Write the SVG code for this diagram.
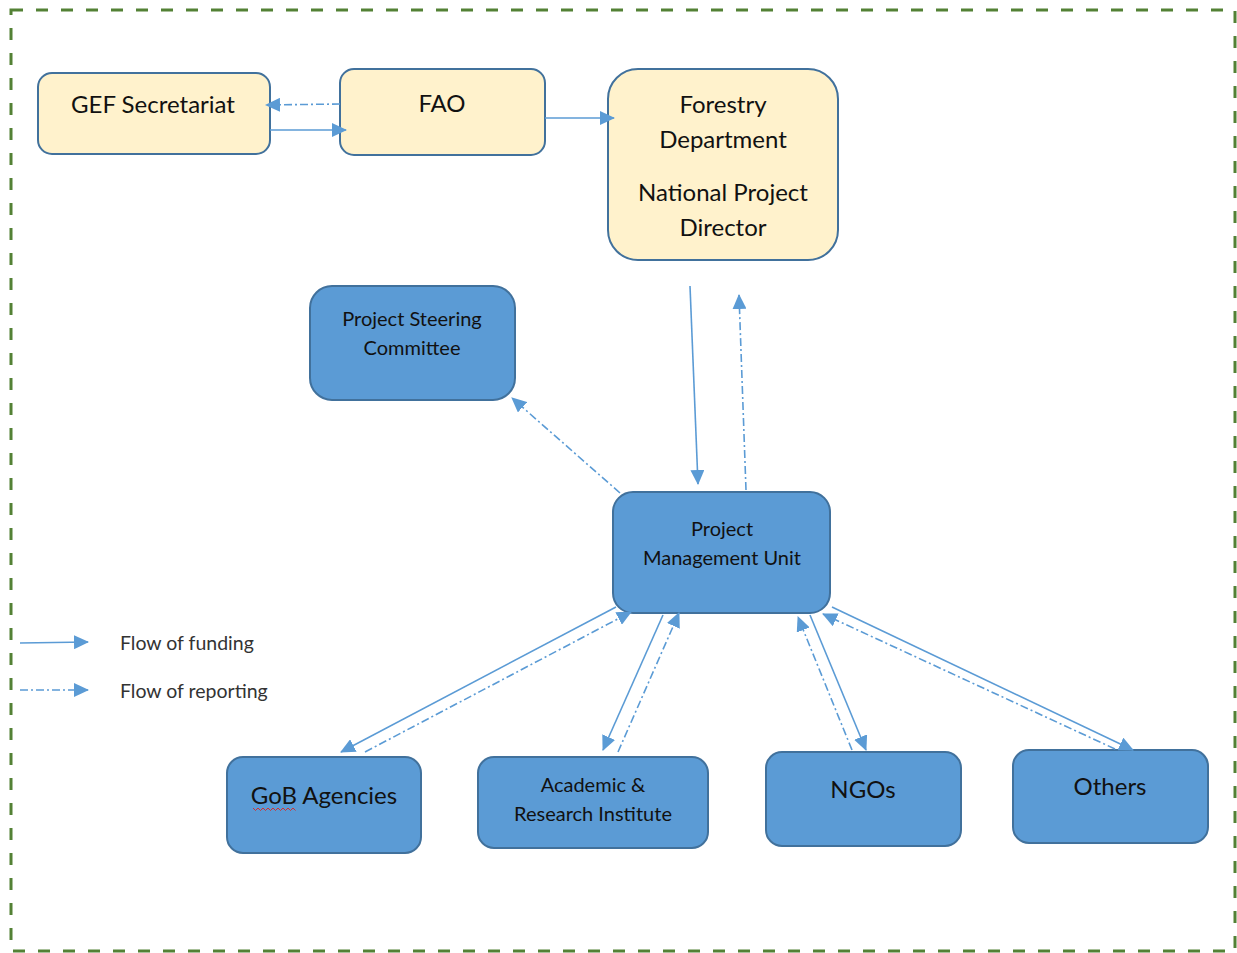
<svg xmlns="http://www.w3.org/2000/svg" width="1237" height="953" viewBox="0 0 1237 953">
<defs>
<marker id="ah" markerUnits="userSpaceOnUse" markerWidth="16" markerHeight="14" refX="14" refY="7" orient="auto">
<path d="M0,0 L15,7 L0,14 Z" fill="#5B9BD5"/>
</marker>
<style>
.frame{fill:none;stroke:#538135;stroke-width:3;stroke-dasharray:12 13}
.tan{fill:#FFF2CC;stroke:#41719C;stroke-width:2}
.blue{fill:#5B9BD5;stroke:#41719C;stroke-width:2}
.fund{fill:none;stroke:#5B9BD5;stroke-width:1.6;marker-end:url(#ah)}
.rep{fill:none;stroke:#5B9BD5;stroke-width:1.6;stroke-dasharray:8 3 2 3;marker-end:url(#ah)}
text{font-family:Lato,"Open Sans","Liberation Sans",sans-serif;fill:#111;text-anchor:middle}
.t24{font-size:24px}
.t20{font-size:20px}
.leg{font-size:19.5px;fill:#333;text-anchor:start}
</style>
</defs>
<rect class="frame" x="11" y="10" width="1224" height="941"/>

<g id="gef"><rect class="tan" x="38" y="73" width="232" height="81" rx="14"/><text class="t24" x="153" y="113">GEF Secretariat</text></g>
<g id="fao"><rect class="tan" x="340" y="69" width="205" height="86" rx="14"/><text class="t24" x="442" y="112">FAO</text></g>
<g id="fd"><rect class="tan" x="608" y="69" width="230" height="191" rx="30"/>
<text class="t24" x="723" y="113">Forestry</text><text class="t24" x="723" y="148">Department</text>
<text class="t24" x="723" y="201">National Project</text><text class="t24" x="723" y="236">Director</text></g>
<g id="psc"><rect class="blue" x="310" y="286" width="205" height="114" rx="22"/>
<text class="t20" x="412" y="326">Project Steering</text><text class="t20" x="412" y="355">Committee</text></g>
<g id="pmu"><rect class="blue" x="613" y="492" width="217" height="121" rx="20"/>
<text class="t20" x="722" y="536">Project</text><text class="t20" x="722" y="565">Management Unit</text></g>
<g id="gob"><rect class="blue" x="227" y="757" width="194" height="96" rx="16"/>
<text class="t24" x="324" y="804">GoB Agencies</text>
<path d="M253,808 l2.5,2.5 2.5,-2.5 2.5,2.5 2.5,-2.5 2.5,2.5 2.5,-2.5 2.5,2.5 2.5,-2.5 2.5,2.5 2.5,-2.5 2.5,2.5 2.5,-2.5 2.5,2.5 2.5,-2.5 2.5,2.5 2.5,-2.5 2.5,2.5" fill="none" stroke="#d03030" stroke-width="1"/></g>
<g id="acad"><rect class="blue" x="478" y="757" width="230" height="91" rx="16"/>
<text class="t20" x="593" y="792">Academic &amp;</text><text class="t20" x="593" y="821">Research Institute</text></g>
<g id="ngo"><rect class="blue" x="766" y="752" width="195" height="94" rx="16"/><text class="t24" x="863" y="798">NGOs</text></g>
<g id="others"><rect class="blue" x="1013" y="750" width="195" height="93" rx="16"/><text class="t24" x="1110" y="795">Others</text></g>

<g id="connectors">
<line class="fund" x1="270" y1="130" x2="346" y2="130"/>
<line class="rep" x1="340" y1="104" x2="266" y2="105"/>
<line class="fund" x1="545" y1="118" x2="614" y2="118"/>
<line class="fund" x1="690" y1="286" x2="698" y2="484"/>
<line class="rep" x1="746" y1="490" x2="739" y2="295"/>
<line class="rep" x1="620" y1="493" x2="512" y2="398"/>
<line class="fund" x1="616" y1="607" x2="341" y2="752"/>
<line class="rep" x1="365" y1="752" x2="631" y2="612"/>
<line class="fund" x1="663" y1="615" x2="603" y2="750"/>
<line class="rep" x1="618" y1="752" x2="679" y2="613"/>
<line class="fund" x1="810" y1="615" x2="866" y2="750"/>
<line class="rep" x1="852" y1="750" x2="798" y2="617"/>
<line class="fund" x1="832" y1="607" x2="1133" y2="750"/>
<line class="rep" x1="1115" y1="749" x2="823" y2="614"/>
<line class="fund" x1="20" y1="643" x2="88" y2="642"/>
<line class="rep" x1="20" y1="690" x2="88" y2="690"/>
</g>
<g id="legend">
<text class="leg" x="120" y="650">Flow of funding</text>
<text class="leg" x="120" y="698">Flow of reporting</text>
</g>
</svg>
